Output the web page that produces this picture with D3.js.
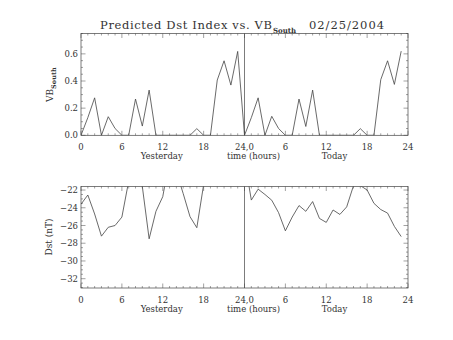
<!DOCTYPE html>
<html>
<head>
<meta charset="utf-8">
<script src="https://cdn.jsdelivr.net/npm/d3@7"></script>
<style>
  html, body { margin: 0; padding: 0; background: #fff; }
  svg { display: block; }
  text { font-family: "DejaVu Serif", serif; fill: #333; }
</style>
</head>
<body>
<svg id="chart" width="453" height="340"></svg>
<script>
// ---- data (hourly, yesterday 0-23 then today 24-47) ----
const hours = [0,1,2,3,4,5,6,7,8,9,10,11,12,13,14,15,16,17,18,19,20,21,22,23,
               24,25,26,27,28,29,30,31,32,33,34,35,36,37,38,39,40,41,42,43,44,45,46,47];
const vbSouth = [0, 0.13, 0.276, 0, 0.137, 0.05, 0, 0, 0.267, 0.068, 0.333, 0, 0, 0, 0, 0, 0, 0.049, 0, 0, 0.407, 0.549, 0.37, 0.618,
                 0, 0.13, 0.276, 0, 0.14, 0.05, 0, 0, 0.267, 0.065, 0.333, 0, 0, 0, 0, 0, 0, 0.049, 0, 0, 0.41, 0.549, 0.375, 0.62];
const dst = [-23.6, -22.56, -24.7, -27.2, -26.2, -26.0, -25.05, -21.0, -20.0, -21.6, -27.5, -24.4, -22.75, -18.5, -19.9, -22.4, -25.0, -26.25, -21.4, -20.0, -19.0, -19.0, -18.5, -18.0,
             -18.5, -23.13, -21.9, -22.5, -23.15, -24.55, -26.6, -25.05, -23.75, -24.4, -23.3, -25.2, -25.65, -24.25, -24.75, -23.9, -21.5, -21.5, -22.0, -23.5, -24.2, -24.6, -26.1, -27.25];
const xTickValues = [0, 6, 12, 18, 24, 30, 36, 42, 48];
const xTickLabels = ["0", "6", "12", "18", "24,0", "6", "12", "18", "24"];
const topYTicks = [0, 0.2, 0.4, 0.6];
const botYTicks = [-32, -30, -28, -26, -24, -22];
const titleMain = "Predicted Dst Index vs. VB";
const titleSub = "South";
const titleDate = "02/25/2004";

// ---- layout ----
const svg = d3.select("#chart");
const L = 81, R = 408;
const x = d3.scaleLinear().domain([0, 48]).range([L, R]);
const panels = [
  { top: 33.5, bottom: 135.3, domain: [0, 0.75], values: vbSouth, ticks: topYTicks,
    minor: d3.range(0, 0.7501, 0.05), fmt: d3.format(".1f"), id: "top" },
  { top: 186.5, bottom: 288, domain: [-33.05, -21.6], values: dst, ticks: botYTicks,
    minor: d3.range(-33, -21.59, 0.5), fmt: d => d3.format(".0f")(d).replace("-", "\u2212"), id: "bot" }
];
const ink = "#444";

panels.forEach(p => {
  const y = d3.scaleLinear().domain(p.domain).range([p.bottom, p.top]);
  const g = svg.append("g");

  svg.append("clipPath").attr("id", "clip-" + p.id)
    .append("rect").attr("x", L).attr("y", p.top).attr("width", R - L).attr("height", p.bottom - p.top);

  g.append("rect").attr("x", L).attr("y", p.top).attr("width", R - L).attr("height", p.bottom - p.top)
    .attr("fill", "none").attr("stroke", ink).attr("stroke-width", 0.7);

  const xMinor = d3.range(0, 49, 1);
  xMinor.forEach(h => {
    const major = h % 6 === 0;
    const len = major ? 4.5 : 2;
    g.append("line").attr("x1", x(h)).attr("x2", x(h)).attr("y1", p.bottom).attr("y2", p.bottom - len)
      .attr("stroke", ink).attr("stroke-width", 0.5);
    g.append("line").attr("x1", x(h)).attr("x2", x(h)).attr("y1", p.top).attr("y2", p.top + len)
      .attr("stroke", ink).attr("stroke-width", 0.5);
  });
  p.minor.forEach(v => {
    const major = p.ticks.some(t => Math.abs(t - v) < 1e-6);
    const len = major ? 4.5 : 2;
    g.append("line").attr("x1", L).attr("x2", L + len).attr("y1", y(v)).attr("y2", y(v))
      .attr("stroke", ink).attr("stroke-width", 0.5);
    g.append("line").attr("x1", R).attr("x2", R - len).attr("y1", y(v)).attr("y2", y(v))
      .attr("stroke", ink).attr("stroke-width", 0.5);
  });

  p.ticks.forEach(t => {
    g.append("text").attr("x", L - 3).attr("y", y(t) + 3).attr("text-anchor", "end")
      .attr("font-size", 8.5).text(p.fmt(t));
  });

  xTickValues.forEach((v, i) => {
    g.append("text").attr("x", x(v)).attr("y", p.bottom + 14.5).attr("text-anchor", "middle")
      .attr("font-size", 8.5).text(xTickLabels[i]);
  });
  const sy = p.bottom + 23.5;
  g.append("text").attr("x", 161.7).attr("y", sy).attr("text-anchor", "middle").attr("font-size", 8.5).text("Yesterday");
  g.append("text").attr("x", 253.5).attr("y", sy).attr("text-anchor", "middle").attr("font-size", 8.5).text("time (hours)");
  g.append("text").attr("x", 334.5).attr("y", sy).attr("text-anchor", "middle").attr("font-size", 8.5).text("Today");

  g.append("line").attr("x1", x(24)).attr("x2", x(24)).attr("y1", p.top).attr("y2", p.bottom)
    .attr("stroke", ink).attr("stroke-width", 0.7);

  const line = d3.line().x((d, i) => x(hours[i])).y(d => y(d));
  g.append("path").datum(p.values).attr("d", line).attr("fill", "none")
    .attr("stroke", ink).attr("stroke-width", 0.8).attr("clip-path", "url(#clip-" + p.id + ")");
});

// y axis titles
const yl1 = svg.append("text").attr("transform", "translate(53,102) rotate(-90)").attr("font-size", 9);
yl1.append("tspan").text("VB");
yl1.append("tspan").attr("font-size", 6.5).attr("dy", 3).attr("font-weight", "bold").text("South");
svg.append("text").attr("transform", "translate(51.5,237) rotate(-90)").attr("text-anchor", "middle")
  .attr("font-size", 9).text("Dst (nT)");

// title
svg.append("text").attr("x", 100).attr("y", 28.5).attr("font-size", 11.5)
  .attr("textLength", 172).attr("lengthAdjust", "spacing").text(titleMain);
svg.append("text").attr("x", 273).attr("y", 33).attr("font-size", 7).attr("font-weight", "bold").text(titleSub);
svg.append("text").attr("x", 309).attr("y", 28.5).attr("font-size", 11.5)
  .attr("textLength", 75).attr("lengthAdjust", "spacing").text(titleDate);
</script>
</body>
</html>
